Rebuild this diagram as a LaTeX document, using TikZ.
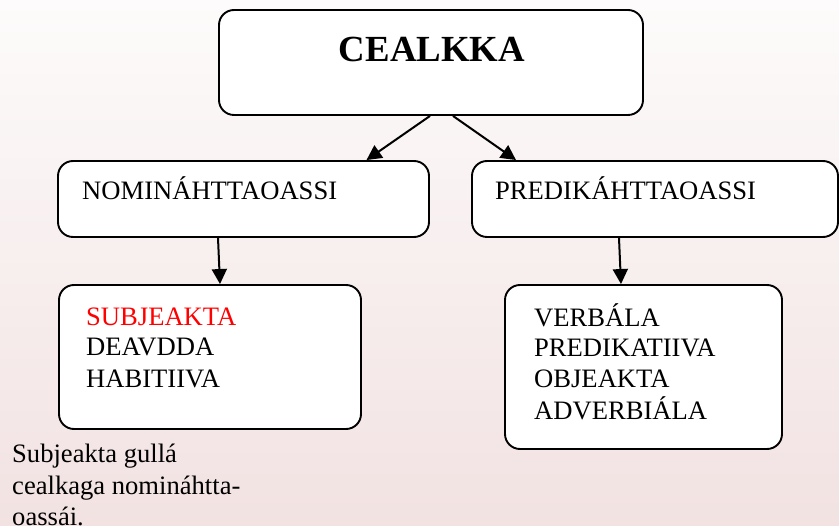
\documentclass[tikz,border=0pt]{standalone}
\usepackage{fontspec}
\setmainfont{Liberation Serif}
\usetikzlibrary{arrows.meta}
\definecolor{bgtop}{RGB}{253,251,251}
\definecolor{bgbot}{RGB}{242,226,226}
\tikzset{
  box/.style={draw=black, line width=1.9pt, rounded corners=15pt, fill=white, inner sep=0pt},
  lbl/.style={anchor=base west, inner sep=0pt, font=\fontsize{26.6}{31}\selectfont},
  arr/.style={line width=2pt, -{Triangle[length=15pt,width=15pt]}},
}
\begin{document}
\begin{tikzpicture}[x=1pt,y=-1pt]
\useasboundingbox (0,0) rectangle (839,526);
\fill[top color=bgtop, bottom color=bgbot] (0,0) rectangle (839,526);

\node[box, minimum width=424pt, minimum height=105pt] (top) at (431,62.5) {};
\node[box, minimum width=371pt, minimum height=76pt] (nom) at (243.5,199) {};
\node[box, minimum width=366pt, minimum height=76pt] (pred) at (655,199) {};
\node[box, minimum width=302pt, minimum height=144pt] (sub) at (210,357) {};
\node[box, minimum width=277pt, minimum height=164pt] (verb) at (643.5,367) {};

\node[anchor=base, inner sep=0pt, font=\fontsize{36.8}{44}\selectfont\bfseries] (ttl) at (432,62) {CEALKKA};
\node[lbl] (nomt) at (82,200) {NOMINÁHTTAOASSI};
\node[lbl] (predt) at (495,200) {PREDIKÁHTTAOASSI};
\node[lbl, text=red] (s1) at (86,326) {SUBJEAKTA};
\node[lbl] (s2) at (86,356) {DEAVDDA};
\node[lbl] (s3) at (86,388) {HABITIIVA};
\node[lbl] (v1) at (534,327) {VERBÁLA};
\node[lbl] (v2) at (534,357) {PREDIKATIIVA};
\node[lbl] (v3) at (534,388) {OBJEAKTA};
\node[lbl] (v4) at (534,420) {ADVERBIÁLA};
\node[lbl] (n1) at (12,463) {Subjeakta gullá};
\node[lbl] (n2) at (12,494.5) {cealkaga nomináhtta-};
\node[lbl] (n3) at (12,526) {oassái.};

\draw[arr] ([xshift=-1pt]top.south) -- ([xshift=123pt]nom.north);
\draw[arr] ([xshift=22pt]top.south) -- ([xshift=-139pt]pred.north);
\draw[arr] ([xshift=-25.5pt]nom.south) -- ([xshift=10pt]sub.north);
\draw[arr] ([xshift=-36pt]pred.south) -- ([xshift=-22.5pt]verb.north);
\end{tikzpicture}
\end{document}
